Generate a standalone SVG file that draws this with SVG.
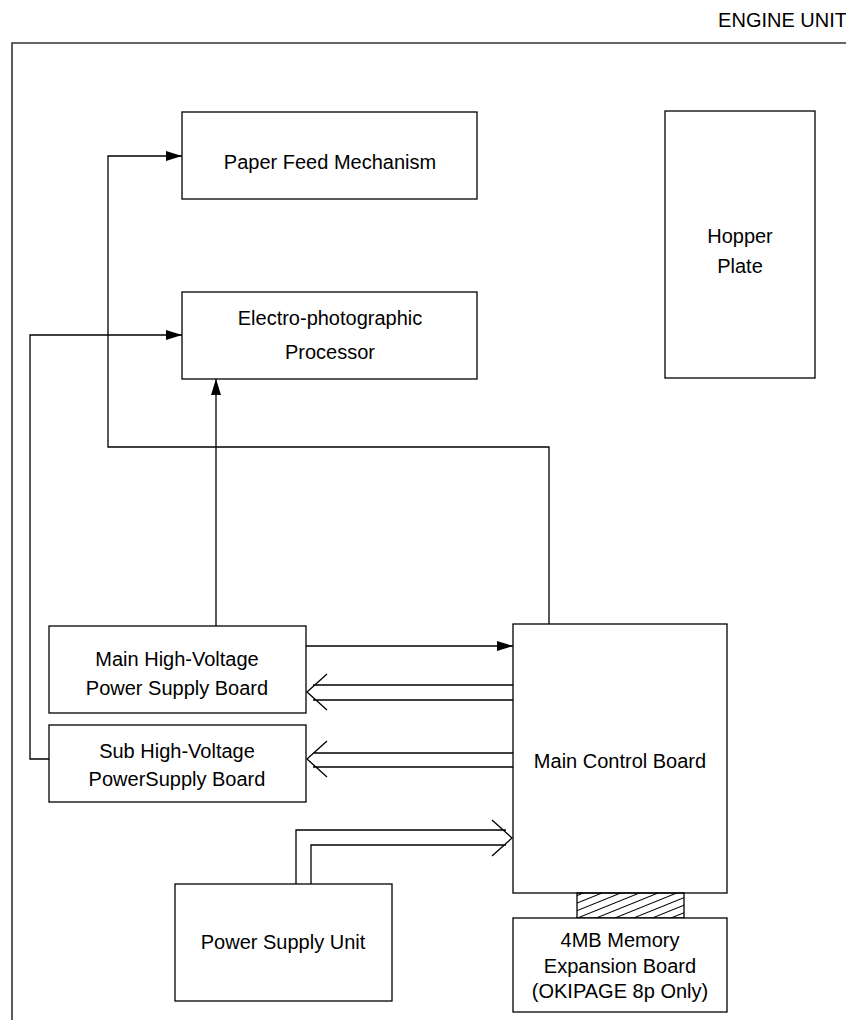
<svg xmlns="http://www.w3.org/2000/svg" width="846" height="1020" viewBox="0 0 846 1020">
<style>
.box{fill:#fff;stroke:#000;stroke-width:1.3}
.ln{fill:none;stroke:#000;stroke-width:1.3}
.t{font-family:"Liberation Sans",Arial,sans-serif;font-size:20px;fill:#000;text-anchor:middle}
</style>
<defs>
<marker id="ah" markerWidth="16" markerHeight="10" refX="16" refY="5" orient="auto" markerUnits="userSpaceOnUse">
<path d="M0,0 L16,5 L0,10 Z" fill="#000"/>
</marker>
<pattern id="hatch" patternUnits="userSpaceOnUse" width="20" height="7" patternTransform="rotate(-22)">
<line x1="0" y1="3.5" x2="20" y2="3.5" stroke="#000" stroke-width="1"/>
</pattern>
</defs>
<rect width="846" height="1020" fill="#fff"/>
<g id="frame">
<path fill="none" stroke="#333" stroke-width="1.6" d="M12,1020 L12,43 L846,43"/>
<text x="847" y="27" class="t" style="text-anchor:end">ENGINE UNIT</text>
</g>
<g id="paper-feed">
<rect class="box" x="182" y="112" width="295" height="87"/>
<text x="330" y="169" class="t">Paper Feed Mechanism</text>
</g>
<g id="electro">
<rect class="box" x="182" y="292" width="295" height="87"/>
<text x="330" y="325" class="t">Electro-photographic</text>
<text x="330" y="359" class="t">Processor</text>
</g>
<g id="hopper">
<rect class="box" x="665" y="111" width="150" height="267"/>
<text x="740" y="243" class="t">Hopper</text>
<text x="740" y="273" class="t">Plate</text>
</g>
<g id="main-hv">
<rect class="box" x="49" y="626" width="257" height="87"/>
<text x="177" y="666" class="t">Main High-Voltage</text>
<text x="177" y="695" class="t">Power Supply Board</text>
</g>
<g id="sub-hv">
<rect class="box" x="49" y="725" width="257" height="77"/>
<text x="177" y="758" class="t">Sub High-Voltage</text>
<text x="177" y="786" class="t">PowerSupply Board</text>
</g>
<g id="main-control">
<rect class="box" x="513" y="624" width="214" height="269"/>
<text x="620" y="768" class="t">Main Control Board</text>
</g>
<g id="connector-hatch">
<rect x="577" y="893" width="107" height="25" fill="url(#hatch)" stroke="#000" stroke-width="1.3"/>
</g>
<g id="memory">
<rect class="box" x="513" y="918" width="214" height="94"/>
<text x="620" y="947" class="t">4MB Memory</text>
<text x="620" y="973" class="t">Expansion Board</text>
<text x="620" y="998" class="t">(OKIPAGE 8p Only)</text>
</g>
<g id="psu">
<rect class="box" x="175" y="884" width="217" height="117"/>
<text x="283" y="949" class="t">Power Supply Unit</text>
</g>
<g id="connectors">
<path class="ln" d="M549,624 L549,447 L108,447 L108,156 L182,156" marker-end="url(#ah)"/>
<path class="ln" d="M49,759 L30,759 L30,335 L182,335" marker-end="url(#ah)"/>
<path class="ln" d="M216,626 L216,379" marker-end="url(#ah)"/>
<path class="ln" d="M306,646 L513,646" marker-end="url(#ah)"/>
<path class="ln" d="M513,685 L313,685 M513,700 L313,700 M327,674 L307,692 L327,710"/>
<path class="ln" d="M513,753 L313,753 M513,767 L313,767 M327,741 L307,759 L327,777"/>
<path class="ln" d="M296,884 L296,830 L506,830 M311,884 L311,845 L506,845 M492,820 L512,838 L492,856"/>
</g>
</svg>
